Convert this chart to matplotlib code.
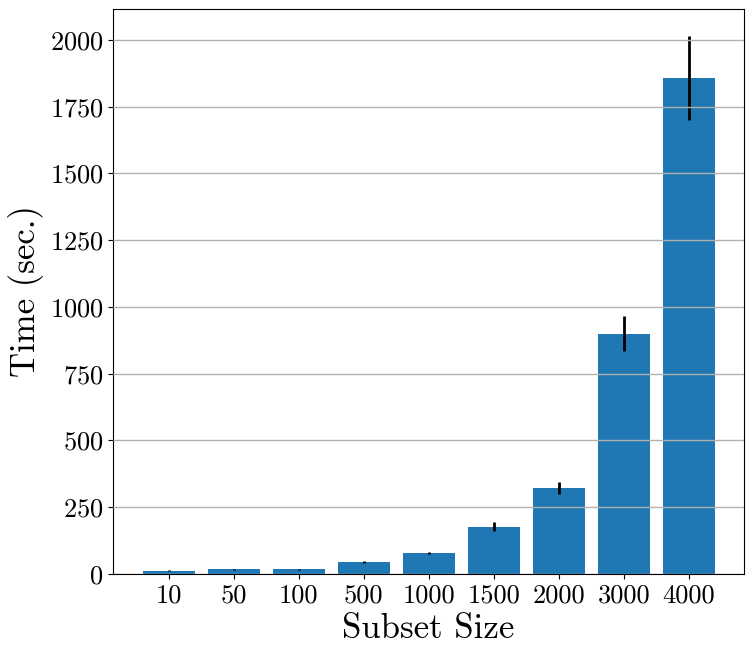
import matplotlib
matplotlib.use("Agg")
import matplotlib.pyplot as plt
import numpy as np

# subset sizes and timings (sec.)
sizes = ["10", "50", "100", "500", "1000", "1500", "2000", "3000", "4000"]
times = [12.5, 17.5, 17.5, 46, 79, 177, 321, 900, 1858]
errs = [2, 2, 2, 4, 4, 16, 23, 65, 156]

plt.rcParams['font.family'] = ['cmr10', 'DejaVu Serif']
plt.rcParams['axes.formatter.use_mathtext'] = True
plt.rcParams['axes.unicode_minus'] = False

fig = plt.figure(figsize=(7.53, 6.58), dpi=100)
ax = fig.add_axes([113/753, 1-574/658, (744-113)/753, (574-9)/658])

x = np.arange(len(sizes))
ax.bar(x, times, yerr=errs, color='#1f77b4', width=0.8,
       error_kw=dict(ecolor='black', elinewidth=2, capsize=0))
ax.set_axisbelow(False)
ax.yaxis.grid(True, color='#b0b0b0', linewidth=1)

ax.set_xticks(x)
ax.set_xticklabels(sizes)
ax.set_yticks([0, 250, 500, 750, 1000, 1250, 1500, 1750, 2000])
ax.set_ylim(0, 2116)
ax.set_xlim(-0.86, 8.85)
ax.tick_params(labelsize=19)
ax.set_xlabel("Subset Size", fontsize=25)
ax.set_ylabel("Time (sec.)", fontsize=25)

plt.savefig("out.png", dpi=100)
